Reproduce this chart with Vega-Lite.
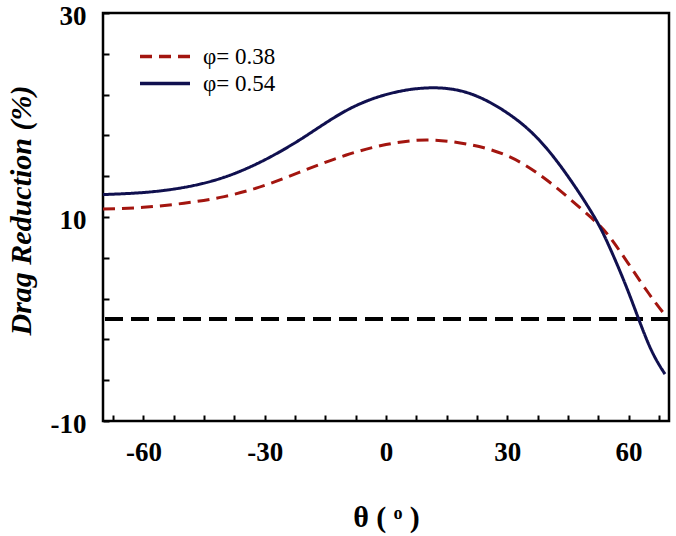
{
  "$schema": "https://vega.github.io/schema/vega-lite/v6.json",
  "width": 566,
  "height": 408,
  "autosize": {"type": "none"},
  "padding": {"left": 103, "top": 13, "right": 7, "bottom": 115},
  "background": "white",
  "config": {
    "view": {"stroke": "black", "strokeWidth": 2.5},
    "font": "Liberation Serif"
  },
  "data": {
    "values": [
      {"theta": -70, "dr": 10.78, "phi": "φ= 0.38"},
      {"theta": -60, "dr": 10.95, "phi": "φ= 0.38"},
      {"theta": -50, "dr": 11.35, "phi": "φ= 0.38"},
      {"theta": -40, "dr": 12.0, "phi": "φ= 0.38"},
      {"theta": -30, "dr": 13.1, "phi": "φ= 0.38"},
      {"theta": -20, "dr": 14.6, "phi": "φ= 0.38"},
      {"theta": -10, "dr": 16.05, "phi": "φ= 0.38"},
      {"theta": 0, "dr": 17.1, "phi": "φ= 0.38"},
      {"theta": 10, "dr": 17.55, "phi": "φ= 0.38"},
      {"theta": 20, "dr": 17.15, "phi": "φ= 0.38"},
      {"theta": 30, "dr": 16.0, "phi": "φ= 0.38"},
      {"theta": 40, "dr": 13.55, "phi": "φ= 0.38"},
      {"theta": 50, "dr": 10.2, "phi": "φ= 0.38"},
      {"theta": 55, "dr": 8.2, "phi": "φ= 0.38"},
      {"theta": 60, "dr": 5.4, "phi": "φ= 0.38"},
      {"theta": 65, "dr": 2.5, "phi": "φ= 0.38"},
      {"theta": 69, "dr": 0.4, "phi": "φ= 0.38"},
      {"theta": -70, "dr": 12.2, "phi": "φ= 0.54"},
      {"theta": -60, "dr": 12.4, "phi": "φ= 0.54"},
      {"theta": -50, "dr": 12.9, "phi": "φ= 0.54"},
      {"theta": -40, "dr": 13.9, "phi": "φ= 0.54"},
      {"theta": -30, "dr": 15.6, "phi": "φ= 0.54"},
      {"theta": -20, "dr": 17.9, "phi": "φ= 0.54"},
      {"theta": -10, "dr": 20.4, "phi": "φ= 0.54"},
      {"theta": 0, "dr": 22.0, "phi": "φ= 0.54"},
      {"theta": 10, "dr": 22.65, "phi": "φ= 0.54"},
      {"theta": 20, "dr": 22.2, "phi": "φ= 0.54"},
      {"theta": 30, "dr": 20.2, "phi": "φ= 0.54"},
      {"theta": 40, "dr": 16.6, "phi": "φ= 0.54"},
      {"theta": 50, "dr": 11.0, "phi": "φ= 0.54"},
      {"theta": 55, "dr": 7.3, "phi": "φ= 0.54"},
      {"theta": 60, "dr": 2.6, "phi": "φ= 0.54"},
      {"theta": 65, "dr": -2.5, "phi": "φ= 0.54"},
      {"theta": 69, "dr": -5.4, "phi": "φ= 0.54"}
    ]
  },
  "layer": [
    {
      "mark": {"type": "rule", "color": "black", "strokeWidth": 3, "strokeDash": [18, 8]},
      "encoding": {"y": {"datum": 0, "type": "quantitative"}}
    },
    {
      "mark": {"type": "line", "strokeWidth": 3, "interpolate": "natural"},
      "encoding": {
        "x": {
          "field": "theta", "type": "quantitative",
          "scale": {"domain": [-70, 70], "nice": false, "zero": false},
          "axis": {
            "title": "θ ( ᵒ )",
            "values": [-67.5, -60, -52.5, -45, -37.5, -30, -22.5, -15, -7.5, 0, 7.5, 15, 22.5, 30, 37.5, 45, 52.5, 60, 67.5],
            "labelExpr": "datum.value % 30 == 0 ? replace(datum.label, '−', '-') : ''",
            "grid": false,
            "domain": false,
            "offset": -6,
            "tickColor": "black", "tickWidth": 2, "tickSize": 6,
            "labelFont": "Liberation Serif", "labelFontSize": 27, "labelFontWeight": "bold", "labelColor": "black",
            "labelPadding": 18, "labelFlush": false,
            "titleFont": "Liberation Serif", "titleFontSize": 30, "titleFontWeight": "bold", "titleColor": "black",
            "titleY": 102, "titleBaseline": "middle"
          }
        },
        "y": {
          "field": "dr", "type": "quantitative",
          "scale": {"domain": [-10, 30], "nice": false, "zero": false},
          "axis": {
            "title": "Drag Reduction (%)",
            "values": [-10, -6, -2, 2, 6, 10, 14, 18, 22, 26, 30],
            "labelExpr": "(datum.value == -10 || datum.value == 10 || datum.value == 30) ? replace(datum.label, '−', '-') : ''",
            "grid": false,
            "domain": false,
            "offset": -6,
            "tickColor": "black", "tickWidth": 2, "tickSize": 6,
            "labelFont": "Liberation Serif", "labelFontSize": 27, "labelFontWeight": "bold", "labelColor": "black",
            "labelPadding": 17, "labelFlush": false, "labelOffset": 3,
            "titleFont": "Liberation Serif", "titleFontSize": 30, "titleFontWeight": "bold", "titleFontStyle": "italic", "titleColor": "black",
            "titleX": -88, "titleY": 197, "titleAngle": -90, "titleBaseline": "middle", "titleAlign": "center"
          }
        },
        "color": {
          "field": "phi", "type": "nominal",
          "scale": {"domain": ["φ= 0.38", "φ= 0.54"], "range": ["#A3150F", "#10104F"]},
          "legend": {
            "orient": "none", "legendX": 35, "legendY": 29, "title": null,
            "symbolType": "M-1,0H3", "symbolSize": 625, "symbolStrokeWidth": 3.5,
            "labelFont": "Liberation Serif", "labelFontSize": 23, "labelColor": "black",
            "rowPadding": 0, "labelOffset": 36
          }
        },
        "strokeDash": {
          "field": "phi", "type": "nominal",
          "scale": {"domain": ["φ= 0.38", "φ= 0.54"], "range": [[12, 7], [1, 0]]},
          "legend": null
        }
      }
    }
  ]
}
